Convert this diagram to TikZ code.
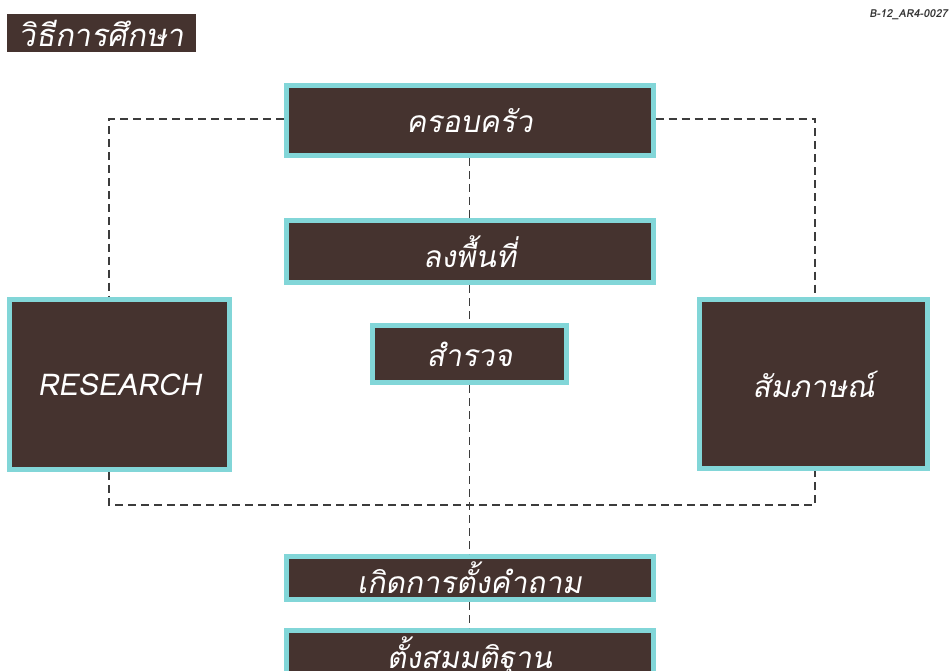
\documentclass[tikz,border=0pt]{standalone}
\usepackage{fontspec}
\newfontfamily\thaifont[Script=Thai,FakeSlant=0.18]{Loma}
\definecolor{boxfill}{HTML}{45332F}
\definecolor{boxedge}{HTML}{82D6D8}
\definecolor{dashcol}{HTML}{3C3C3C}
\tikzset{
  box/.style={draw=boxedge, line width=5pt, fill=boxfill, text=white, inner sep=0pt,
    font=\thaifont\fontsize{30}{33}\selectfont, anchor=center},
  link/.style={draw=dashcol, line width=1.6pt, dash pattern=on 8pt off 5pt},
}
\begin{document}
\begin{tikzpicture}[x=1pt,y=-1pt]
\useasboundingbox (0,0) rectangle (950,671);
\fill[white] (0,0) rectangle (950,671);
% title and id
\node[fill=boxfill, text=white, inner sep=0pt, minimum width=189pt, minimum height=38pt,
  font=\thaifont\fontsize{31}{34}\selectfont] (title) at (101.5,33) {วิธีการศึกษา};
\node[anchor=north east, inner sep=0pt, text=black!80,
  font=\thaifont\bfseries\fontsize{11}{12}\selectfont] (id) at (948,9) {B-12\_AR4-0027};
% boxes
\node[box, minimum width=367pt, minimum height=70pt] (fam) at (469.5,120.5) {ครอบครัว};
\node[box, minimum width=367pt, minimum height=62pt] (field) at (469.5,251.5) {ลงพื้นที่};
\node[box, minimum width=194pt, minimum height=57pt] (survey) at (469.5,354) {สำรวจ};
\node[box, minimum width=220pt, minimum height=170pt] (research) at (119.5,384.5) {RESEARCH};
\node[box, minimum width=228pt, minimum height=169pt] (interview) at (813.5,384) {สัมภาษณ์};
\node[box, minimum width=367pt, minimum height=43pt] (quest) at (469.5,578) {เกิดการตั้งคำถาม};
\node[box, minimum width=367pt, minimum height=51pt] (hyp) at (469.5,656) {ตั้งสมมติฐาน};
% dashed connectors
\coordinate (tl) at (109,119);
\coordinate (tr) at (815,119);
\coordinate (bl) at (109,505);
\coordinate (br) at (815,505);
\draw[link] (fam.west|-tl) -- (tl) -- (tl|-research.north);
\draw[link] (fam.east|-tr) -- (tr) -- (tr|-interview.north);
\draw[link] (bl|-research.south) -- (bl) -- (br) -- (br|-interview.south);
\draw[link] (fam.south) -- (field.north);
\draw[link] (field.south) -- (survey.north);
\draw[link] (survey.south) -- (quest.north);
\draw[link] (quest.south) -- (hyp.north);
\end{tikzpicture}
\end{document}
